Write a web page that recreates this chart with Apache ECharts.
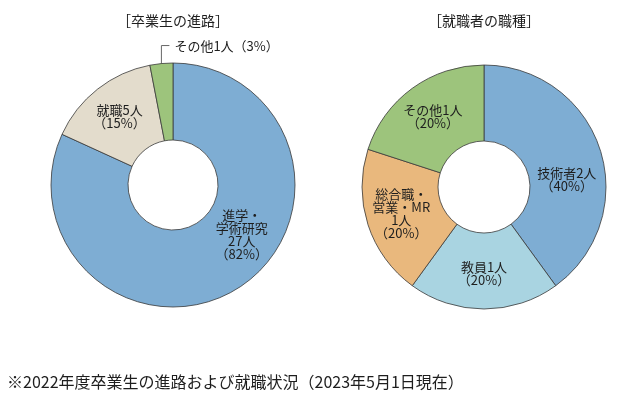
<!DOCTYPE html>
<html><head><meta charset="utf-8">
<script src="https://cdn.jsdelivr.net/npm/echarts@6/dist/echarts.min.js"></script>
<style>html,body{margin:0;padding:0;background:#fff}#c{width:620px;height:395px}</style>
</head><body><div id="c"></div>
<script>
// ---- data ----
const leftTitle = '［卒業生の進路］';
const leftNames = ['進学・\n学術研究', '就職', 'その他'];
const leftValues = [27, 5, 1];
const rightTitle = '［就職者の職種］';
const rightNames = ['技術者', '教員', '総合職・\n営業・MR', 'その他'];
const rightValues = [2, 1, 1, 1];
const footnote = '※2022年度卒業生の進路および就職状況（2023年5月1日現在）';

const leftColors = ['#7eadd3', '#e3dccc', '#9dc47c'];
const rightColors = ['#7eadd3', '#a9d4e1', '#e9b87d', '#9dc47c'];

const FONT = '"Noto Sans CJK JP", "Noto Sans", sans-serif';
const TXT = '#1e1e1e';

function fmt(p) {
  const pct = Math.round(p.percent);
  if (p.name.indexOf('\n') >= 0) return p.name + '\n' + p.value + '人\n（' + pct + '%）';
  return p.name + p.value + '人\n（' + pct + '%）';
}

function buildData(names, values, colors, extra) {
  return names.map((n, i) => Object.assign({
    name: n, value: values[i], itemStyle: { color: colors[i] }
  }, (extra && extra[i]) || {}));
}

const leftExtra = [
  { label: { offset: [22, -23] } },
  {},
  { label: { position: 'outside', formatter: p => p.name + p.value + '人（' + Math.round(p.percent) + '%）' },
    labelLine: { show: true, length: 10, length2: 10, lineStyle: { color: '#666', width: 1 } } }
];
const rightExtra = [
  { label: { offset: [0, 19] } }, {}, {}, {}
];

const common = {
  type: 'pie',
  radius: [45, 122],
  startAngle: 90,
  clockwise: true,
  silent: true,
  animation: false,
  itemStyle: { borderColor: '#3a3a3a', borderWidth: 0.8 },
  label: { show: true, position: 'inside', formatter: fmt, color: TXT, fontSize: 13, lineHeight: 13, fontFamily: FONT, align: 'center' },
  labelLine: { show: false },
  emphasis: { disabled: true }
};

const chart = echarts.init(document.getElementById('c'), null, { renderer: 'canvas' });
chart.setOption({
  backgroundColor: '#fff',
  animation: false,
  graphic: [
    { type: 'text', x: 173, y: 21, style: { text: leftTitle, align: 'center', verticalAlign: 'middle', fontSize: 14, fontFamily: FONT, fill: TXT } },
    { type: 'text', x: 484, y: 21, style: { text: rightTitle, align: 'center', verticalAlign: 'middle', fontSize: 14, fontFamily: FONT, fill: TXT } },
    { type: 'text', x: 7, y: 382, style: { text: footnote, align: 'left', verticalAlign: 'middle', fontSize: 16, fontFamily: FONT, fill: TXT } }
  ],
  series: [
    Object.assign({}, common, {
      center: [173, 185],
      data: buildData(leftNames, leftValues, leftColors, leftExtra),
      labelLayout: function (params) {
        if (params.dataIndex !== 2 || !params.labelLinePoints) return {};
        const p0 = params.labelLinePoints[0];
        const start = [p0[0], p0[1] + 11];
        const p1 = [p0[0], p0[1] - 18];
        const p2 = [p0[0] + 8, p0[1] - 18];
        return {
          x: p2[0] + 5, y: p2[1] + 1, align: 'left', verticalAlign: 'middle',
          labelLinePoints: [start, p1, p2]
        };
      }
    }),
    Object.assign({}, common, {
      center: [484, 187],
      radius: [46, 122],
      data: buildData(rightNames, rightValues, rightColors, rightExtra)
    })
  ]
});
</script></body></html>
